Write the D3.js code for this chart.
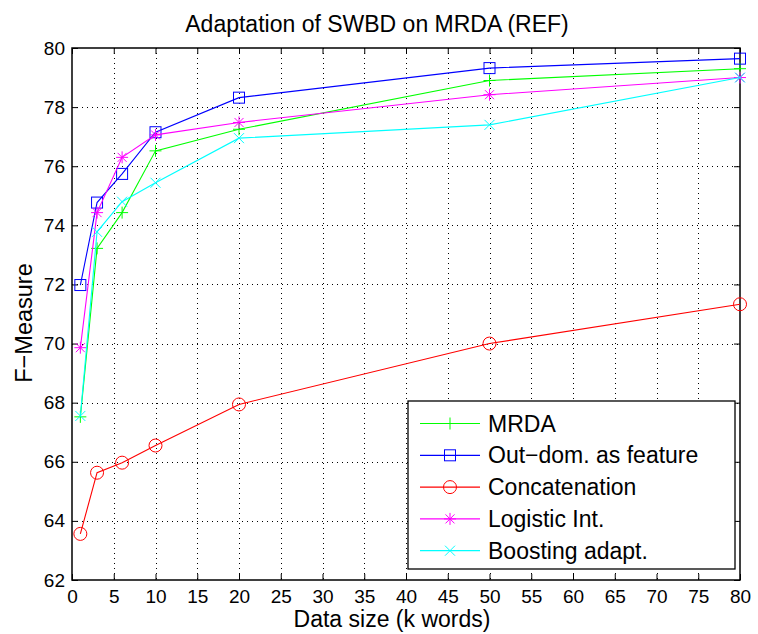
<!DOCTYPE html>
<html>
<head>
<meta charset="utf-8">
<script src="https://cdn.jsdelivr.net/npm/d3@7"></script>
<style>
  body { margin: 0; background: #fff; }
  text { font-family: "Liberation Sans", Arial, sans-serif; }
</style>
</head>
<body>
<svg id="chart"></svg>
<script>
var sizes = [1, 3, 6, 10, 20, 50, 80];
var mrda = [67.52, 73.22, 74.43, 76.52, 77.25, 78.9, 79.3];
var outdom = [71.98, 74.77, 75.74, 77.15, 78.32, 79.32, 79.64];
var concat = [63.56, 65.63, 65.97, 66.55, 67.94, 70.0, 71.33];
var logistic = [69.86, 74.43, 76.3, 77.06, 77.48, 78.42, 79.0];
var boosting = [67.55, 73.78, 74.8, 75.44, 76.95, 77.4, 79.0];

var seriesNames = ["MRDA", "Out\u2212dom. as feature", "Concatenation", "Logistic Int.", "Boosting adapt."];
var seriesValues = [mrda, outdom, concat, logistic, boosting];
var seriesColors = ["#00ff00", "#0000ff", "#ff0000", "#ff00ff", "#00ffff"];
var seriesMarkers = ["plus", "square", "circle", "star", "cross"];

var xTicks = d3.range(0, 81, 5);
var yTicks = d3.range(62, 81, 2);

var width = 758, height = 634;
var margin = {left: 72, right: 18, top: 48, bottom: 54};

var svg = d3.select("#chart").attr("width", width).attr("height", height);

var x = d3.scaleLinear().domain([0, 80]).range([margin.left, width - margin.right]);
var y = d3.scaleLinear().domain([62, 80]).range([height - margin.bottom, margin.top]);

var x0 = x.range()[0], x1 = x.range()[1], y0 = y.range()[0], y1 = y.range()[1];

// dotted grid
var grid = svg.append("g").attr("stroke", "#000").attr("stroke-width", 1)
  .attr("stroke-dasharray", "1,4").attr("shape-rendering", "crispEdges");
grid.selectAll(".gx").data(xTicks.slice(1, -1)).enter().append("line")
  .attr("x1", d => Math.round(x(d)) + 0.5).attr("x2", d => Math.round(x(d)) + 0.5)
  .attr("y1", y1).attr("y2", y0);
grid.selectAll(".gy").data(yTicks.slice(1, -1)).enter().append("line")
  .attr("y1", d => Math.round(y(d)) + 0.5).attr("y2", d => Math.round(y(d)) + 0.5)
  .attr("x1", x0).attr("x2", x1);

// axes, ticks inward on all sides
var tickLen = 6;
var axBottom = svg.append("g").attr("transform", `translate(0,${y0})`)
  .call(d3.axisBottom(x).tickValues(xTicks).tickSizeInner(-tickLen).tickSizeOuter(0).tickPadding(10));
var axTop = svg.append("g").attr("transform", `translate(0,${y1})`)
  .call(d3.axisTop(x).tickValues(xTicks).tickSizeInner(-tickLen).tickSizeOuter(0).tickFormat(""));
var axLeft = svg.append("g").attr("transform", `translate(${x0},0)`)
  .call(d3.axisLeft(y).tickValues(yTicks).tickSizeInner(-tickLen).tickSizeOuter(0).tickPadding(7));
var axRight = svg.append("g").attr("transform", `translate(${x1},0)`)
  .call(d3.axisRight(y).tickValues(yTicks).tickSizeInner(-tickLen).tickSizeOuter(0).tickFormat(""));

[axBottom, axTop, axLeft, axRight].forEach(function(g) {
  g.select(".domain").remove();
  g.selectAll("line").attr("stroke", "#000");
  g.selectAll("text").attr("font-size", 19).attr("fill", "#000")
    .attr("font-family", "'Liberation Sans Narrow', 'Liberation Sans', Arial, sans-serif");
});

svg.append("rect").attr("x", x0).attr("y", y1).attr("width", x1 - x0).attr("height", y0 - y1)
  .attr("fill", "none").attr("stroke", "#000").attr("stroke-width", 1.5);

function drawMarker(g, type, color) {
  if (type === "plus") {
    g.append("path").attr("d", "M-6,0H6M0,-6V6");
  } else if (type === "square") {
    g.append("rect").attr("x", -5.5).attr("y", -5.5).attr("width", 11).attr("height", 11);
  } else if (type === "circle") {
    g.append("circle").attr("r", 6.5);
  } else if (type === "star") {
    g.append("path").attr("d", "M-6,0H6M0,-6V6M-4.5,-4.5L4.5,4.5M-4.5,4.5L4.5,-4.5");
  } else if (type === "cross") {
    g.append("path").attr("d", "M-5,-5L5,5M-5,5L5,-5");
  }
  g.selectAll("*").attr("fill", "none").attr("stroke", color).attr("stroke-width", 1);
}

var line = d3.line().x(d => x(d[0])).y(d => y(d[1]));

seriesValues.forEach(function(vals, i) {
  var pts = sizes.map((s, j) => [s, vals[j]]);
  var g = svg.append("g");
  g.append("path").datum(pts).attr("d", line)
    .attr("fill", "none").attr("stroke", seriesColors[i]).attr("stroke-width", 1.1);
  g.selectAll(".m").data(pts).enter().append("g")
    .attr("transform", d => `translate(${x(d[0])},${y(d[1])})`)
    .each(function() { drawMarker(d3.select(this), seriesMarkers[i], seriesColors[i]); });
});

// legend
var lg = svg.append("g").attr("transform", "translate(408,401)");
lg.append("rect").attr("width", 327).attr("height", 168)
  .attr("fill", "#fff").attr("stroke", "#000").attr("stroke-width", 1.3);
seriesNames.forEach(function(name, i) {
  var yy = 22.5 + i * 31.8;
  var row = lg.append("g").attr("transform", `translate(0,${yy})`);
  row.append("line").attr("x1", 12).attr("x2", 72).attr("stroke", seriesColors[i]).attr("stroke-width", 1.2);
  drawMarker(row.append("g").attr("transform", "translate(42,0)"), seriesMarkers[i], seriesColors[i]);
  row.append("text").attr("x", 80).attr("dy", "0.35em").attr("font-size", 23).attr("fill", "#000").text(name);
});

// titles
svg.append("text").attr("x", 377).attr("y", 31.5).attr("text-anchor", "middle")
  .attr("font-size", 23).attr("fill", "#000").text("Adaptation of SWBD on MRDA (REF)");
svg.append("text").attr("x", 392).attr("y", 627).attr("text-anchor", "middle")
  .attr("font-size", 23).attr("fill", "#000").text("Data size (k words)");
svg.append("text").attr("transform", "translate(31.5,323) rotate(-90)")
  .attr("text-anchor", "middle").attr("font-size", 23.5).attr("fill", "#000").text("F\u2212Measure");
</script>
</body>
</html>
